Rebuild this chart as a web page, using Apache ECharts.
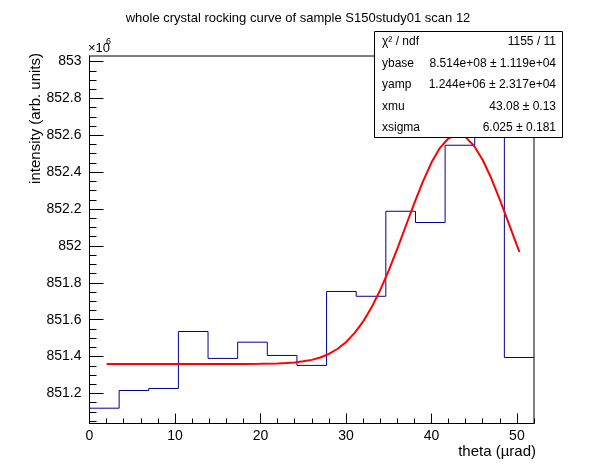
<!DOCTYPE html>
<html>
<head>
<meta charset="utf-8">
<script src="https://cdn.jsdelivr.net/npm/echarts@6/dist/echarts.min.js"></script>
<style>
  html, body { margin: 0; padding: 0; background: #fff; }
  #main { width: 596px; height: 472px; }
</style>
</head>
<body>
<div id="main"></div>
<script>
// histogram: 15 bins between 0 and 52 urad, values in units of 1e6
var binEdges = [0, 3.467, 6.933, 10.4, 13.867, 17.333, 20.8, 24.267, 27.733,
                31.2, 34.667, 38.133, 41.6, 45.067, 48.533, 52];
var binValues = [851.12, 851.216, 851.227, 851.536, 851.39, 851.478, 851.406, 851.352,
                 851.753, 851.727, 852.188, 852.127, 852.546, 852.94, 851.395];

// fitted gaussian
var fitX = [2, 4, 6, 8, 10, 12, 14, 16, 18, 20, 22, 23, 24, 25, 26, 27, 28, 29, 30,
            31, 32, 33, 34, 35, 36, 37, 38, 39, 40, 41, 42, 43, 44, 45, 46, 47, 48, 49, 50, 50.3];
var fitY = [851.36, 851.36, 851.36, 851.36, 851.36, 851.36, 851.36, 851.36, 851.36, 851.361,
            851.363, 851.365, 851.368, 851.374, 851.382, 851.395, 851.414, 851.441, 851.478,
            851.527, 851.589, 851.667, 851.760, 851.866, 851.984, 852.108, 852.232, 852.349,
            852.452, 852.532, 852.584, 852.604, 852.590, 852.542, 852.466, 852.367, 852.251,
            852.128, 852.003, 851.967];

// axis ticks
var xMajor = [0, 10, 20, 30, 40, 50];
var yMajor = [851.2, 851.4, 851.6, 851.8, 852, 852.2, 852.4, 852.6, 852.8, 853];
var xMinor = [];
for (var i = 2; i <= 52; i += 2) if (i % 10 !== 0) xMinor.push(i);
var yMinor = [];
for (var k = 851.05; k < 853.02; k += 0.05) {
    var r = Math.round(k * 100) / 100;
    if (Math.round(r * 100) % 20 !== 0) yMinor.push(r);
}

// stats box text
var statNames = ['\u03c7\u00b2 / ndf', 'ybase', 'yamp', 'xmu', 'xsigma'];
var statValues = ['1155 / 11', '8.514e+08 \u00b1 1.119e+04', '1.244e+06 \u00b1 2.317e+04',
                  '43.08 \u00b1 0.13', '6.025 \u00b1 0.181'];

var histData = [];
for (var b = 0; b < binValues.length; b++) histData.push([binEdges[b], binValues[b]]);
histData.push([binEdges[binEdges.length - 1], binValues[binValues.length - 1]]);
var fitData = fitX.map(function (x, j) { return [x, fitY[j]]; });

var FONT = '"Liberation Sans", Arial, Helvetica, sans-serif';
var myChart = echarts.init(document.getElementById('main'));

var statGraphics = [{
    type: 'rect', z: 100,
    shape: { x: 374.5, y: 31.5, width: 188, height: 106 },
    style: { fill: '#fff', stroke: '#000', lineWidth: 1 }
}];
statNames.forEach(function (n, j) {
    var yy = 42 + j * 21.5;
    statGraphics.push({ type: 'text', z: 101, x: 382, y: yy,
        style: { text: n, font: '12px ' + FONT, fill: '#000', align: 'left', verticalAlign: 'middle' } });
    statGraphics.push({ type: 'text', z: 101, x: 556, y: yy,
        style: { text: statValues[j], font: '12px ' + FONT, fill: '#000', align: 'right', verticalAlign: 'middle' } });
});

var option = {
    backgroundColor: '#fff',
    animation: false,
    title: {
        text: 'whole crystal rocking curve of sample S150study01 scan 12',
        left: 'center',
        top: 7,
        textStyle: { fontFamily: FONT, fontSize: 13, fontWeight: 'normal', color: '#000' }
    },
    grid: {
        left: 89.5, right: 62, top: 56, bottom: 48.5,
        show: true, borderColor: '#000', borderWidth: 1
    },
    xAxis: [{
        type: 'value', min: 0, max: 52,
        axisLine: { onZero: false, lineStyle: { color: '#000' } },
        axisTick: { inside: true, length: 10, customValues: xMajor, lineStyle: { color: '#000' } },
        axisLabel: { customValues: xMajor, margin: 6, color: '#000', fontFamily: FONT, fontSize: 14 },
        splitLine: { show: false }
    }, {
        type: 'value', min: 0, max: 52, position: 'bottom',
        axisLine: { show: false },
        axisTick: { inside: true, length: 5, customValues: xMinor, lineStyle: { color: '#000' } },
        axisLabel: { show: false },
        splitLine: { show: false }
    }],
    yAxis: [{
        type: 'value', min: 851.037, max: 853.03,
        axisLine: { show: true, onZero: false, lineStyle: { color: '#000' } },
        axisTick: { show: true, inside: true, length: 14, customValues: yMajor, lineStyle: { color: '#000' } },
        axisLabel: {
            customValues: yMajor, margin: 8, color: '#000', fontFamily: FONT, fontSize: 14,
            formatter: function (v) { return String(Math.round(v * 10) / 10); }
        },
        splitLine: { show: false }
    }, {
        type: 'value', min: 851.037, max: 853.03, position: 'left',
        axisLine: { show: false },
        axisTick: { show: true, inside: true, length: 7, customValues: yMinor, lineStyle: { color: '#000' } },
        axisLabel: { show: false },
        splitLine: { show: false }
    }],
    series: [{
        type: 'line', name: 'hist', step: 'end', data: histData,
        xAxisIndex: 0, yAxisIndex: 0,
        symbol: 'none', lineStyle: { color: '#000099', width: 1 }, z: 3
    }, {
        type: 'line', name: 'fit', data: fitData,
        xAxisIndex: 0, yAxisIndex: 0,
        symbol: 'none', smooth: false, lineStyle: { color: '#ff0000', width: 2 }, z: 4
    }],
    graphic: statGraphics.concat([
        { type: 'text', x: 88, y: 48, style: { text: '\u00d710', font: '13px ' + FONT, fill: '#000', align: 'left', verticalAlign: 'middle' } },
        { type: 'text', x: 106, y: 42, style: { text: '6', font: '9px ' + FONT, fill: '#000', align: 'left', verticalAlign: 'middle' } },
        { type: 'text', x: 36, y: 53, rotation: Math.PI / 2,
          style: { text: 'intensity (arb. units)', font: '15px ' + FONT, fill: '#000', align: 'right', verticalAlign: 'middle' } },
        { type: 'text', x: 536, y: 452,
          style: { text: 'theta (\u00b5rad)', font: '15px ' + FONT, fill: '#000', align: 'right', verticalAlign: 'middle' } }
    ])
};

myChart.setOption(option);
</script>
</body>
</html>
